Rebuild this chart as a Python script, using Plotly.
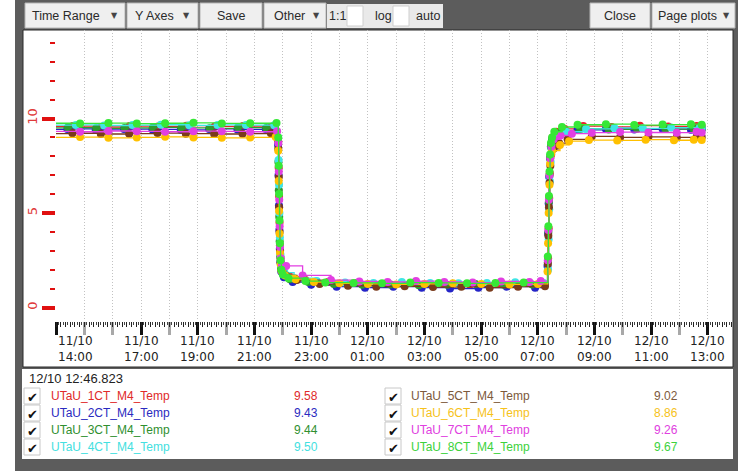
import plotly.graph_objects as go
import pandas as pd

# ---------------- data ----------------
BASE = "2023-10-11 14:00"
SERIES_NAMES = ["UTaU_1CT_M4_Temp", "UTaU_2CT_M4_Temp", "UTaU_3CT_M4_Temp", "UTaU_4CT_M4_Temp",
                "UTaU_5CT_M4_Temp", "UTaU_6CT_M4_Temp", "UTaU_7CT_M4_Temp", "UTaU_8CT_M4_Temp"]
SERIES_COLORS = ["#e8202a", "#2424c8", "#2e9a2e", "#3ee6e6", "#7a3a1c", "#ffc000", "#e23ee2", "#36e836"]
LEGEND_TEXT_COLORS = ["#e02a2a", "#2a2ac0", "#2f8f2f", "#44e0e0", "#7d5a3c", "#f6c21a", "#e040e0", "#3cd23c"]
CURSOR_VALUES = ["9.58", "9.43", "9.44", "9.50", "9.02", "8.86", "9.26", "9.67"]
CURSOR_TIME = "12/10 12:46.823"

# hours after 11/10 14:00
H1 = [-0.3, 0.6, 1.6, 2.6, 3.6, 4.6, 5.6, 6.6, 7.6, 7.84, 7.855, 7.87, 7.885, 7.9, 7.92, 7.95, 8.05, 8.3, 8.8, 9.6,
      10.6, 11.6, 12.6, 13.6, 14.6, 15.6, 16.6, 17.36, 17.38, 17.40, 17.42, 17.44, 17.47, 17.52, 17.65, 17.95, 18.6,
      19.6, 20.6, 21.6, 22.6, 22.78]
V1 = [9.58, 9.6, 9.55, 9.6, 9.58, 9.62, 9.58, 9.6, 9.56, 8.8, 7.4, 5.9, 4.5, 3.3, 2.6, 2.1, 1.8, 1.6, 1.45, 1.35,
      1.3, 1.25, 1.3, 1.25, 1.2, 1.25, 1.3, 2.6, 4.2, 5.8, 7.1, 8.0, 8.6, 9.0, 9.3, 9.45, 9.6,
      9.55, 9.62, 9.58, 9.6, 9.58]
H2 = [-0.3, 0.4, 1.4, 2.4, 3.4, 4.4, 5.4, 6.4, 7.4, 7.835, 7.85, 7.865, 7.88, 7.895, 7.915, 7.945, 8.04, 8.35, 9.0, 9.9,
      10.9, 11.9, 12.9, 13.9, 14.9, 15.9, 16.9, 17.34, 17.36, 17.38, 17.40, 17.43, 17.46, 17.5, 17.62, 17.9, 18.4,
      19.4, 20.4, 21.4, 22.4, 22.78]
V2 = [9.42, 9.45, 9.4, 9.44, 9.42, 9.4, 9.45, 9.42, 9.44, 8.6, 7.0, 5.4, 4.1, 3.1, 2.4, 1.9, 1.6, 1.35, 1.2, 1.1,
      1.05, 1.1, 1.05, 1.0, 1.05, 1.1, 1.05, 2.2, 3.9, 5.5, 6.9, 7.9, 8.5, 8.9, 9.15, 9.3, 9.4,
      9.45, 9.42, 9.44, 9.4, 9.43]
H3 = [-0.3, 0.42, 1.42, 2.42, 3.42, 4.42, 5.42, 6.42, 7.42, 7.83, 7.845, 7.86, 7.875, 7.89, 7.91, 7.94, 8.02, 8.25, 8.9, 9.8,
      10.8, 11.8, 12.8, 13.8, 14.8, 15.8, 16.8, 17.35, 17.37, 17.39, 17.41, 17.43, 17.46, 17.51, 17.6, 17.85, 18.5,
      19.5, 20.5, 21.5, 22.5, 22.78]
V3 = [9.5, 9.52, 9.48, 9.5, 9.53, 9.5, 9.48, 9.52, 9.5, 8.9, 7.7, 6.2, 4.8, 3.5, 2.7, 2.1, 1.75, 1.5, 1.35, 1.25,
      1.2, 1.22, 1.18, 1.2, 1.25, 1.2, 1.22, 2.4, 4.0, 5.6, 7.0, 7.9, 8.5, 8.9, 9.2, 9.35, 9.45,
      9.42, 9.46, 9.44, 9.45, 9.44]
H4 = [-0.3, 0.7, 1.7, 2.7, 3.7, 4.7, 5.7, 6.7, 7.7, 7.838, 7.852, 7.868, 7.882, 7.898, 7.918, 7.948, 8.06, 8.4, 9.2, 10.2,
      11.2, 12.2, 13.2, 14.2, 15.2, 16.2, 17.2, 17.36, 17.38, 17.40, 17.42, 17.45, 17.48, 17.53, 17.7, 18.0, 18.7,
      19.7, 20.7, 21.7, 22.7, 22.78]
V4 = [9.65, 9.66, 9.63, 9.65, 9.67, 9.64, 9.66, 9.65, 9.64, 9.0, 7.8, 6.5, 5.0, 3.7, 2.8, 2.2, 1.85, 1.55, 1.4, 1.32,
      1.3, 1.35, 1.3, 1.28, 1.3, 1.33, 1.3, 2.0, 3.6, 5.2, 6.7, 7.7, 8.4, 8.8, 9.1, 9.3, 9.45,
      9.5, 9.48, 9.52, 9.5, 9.5]
H5 = [-0.3, 0.58, 1.58, 2.58, 3.58, 4.58, 5.58, 6.58, 7.58, 7.842, 7.858, 7.872, 7.888, 7.905, 7.925, 7.96, 8.1, 8.5, 9.3, 10.3,
      11.3, 12.3, 13.3, 14.3, 15.3, 16.3, 17.25, 17.35, 17.37, 17.39, 17.41, 17.44, 17.47, 17.55, 17.75, 18.05, 18.9,
      19.9, 20.9, 21.9, 22.6, 22.78]
V5 = [9.2, 9.22, 9.18, 9.2, 9.23, 9.2, 9.18, 9.2, 9.22, 8.4, 6.9, 5.3, 4.0, 3.0, 2.4, 2.0, 1.7, 1.45, 1.25, 1.15,
      1.1, 1.12, 1.08, 1.1, 1.05, 1.1, 1.12, 2.3, 3.8, 5.3, 6.6, 7.5, 8.1, 8.4, 8.7, 8.9, 9.05,
      9.0, 9.03, 9.0, 9.04, 9.02]
H6 = [-0.3, 0.85, 1.85, 2.85, 3.85, 4.85, 5.85, 6.85, 7.75, 7.84, 7.856, 7.87, 7.886, 7.902, 7.922, 7.955, 8.08, 8.45, 9.1, 10.0,
      11.0, 12.0, 13.0, 14.0, 15.0, 16.0, 17.0, 17.34, 17.36, 17.38, 17.41, 17.43, 17.46, 17.5, 17.78, 18.1, 18.8,
      19.8, 20.8, 21.8, 22.5, 22.78]
V6 = [9.0, 9.02, 8.98, 9.0, 9.03, 9.0, 8.98, 9.0, 9.02, 8.3, 6.7, 5.1, 3.9, 2.9, 2.3, 1.95, 1.7, 1.5, 1.35, 1.28,
      1.25, 1.22, 1.25, 1.28, 1.25, 1.22, 1.25, 1.9, 3.4, 5.0, 6.5, 7.6, 8.1, 8.3, 8.6, 8.8, 8.86,
      8.84, 8.88, 8.85, 8.87, 8.86]
H7 = [-0.3, 0.85, 1.85, 2.85, 3.85, 4.85, 5.85, 6.85, 7.8, 7.845, 7.86, 7.875, 7.89, 7.905, 7.93, 7.97, 8.12, 8.7, 9.7, 10.7,
      11.7, 12.7, 13.7, 14.7, 15.7, 16.7, 17.1, 17.35, 17.37, 17.39, 17.41, 17.44, 17.48, 17.56, 17.8, 18.2, 18.9,
      19.9, 20.9, 21.9, 22.6, 22.78]
V7 = [9.32, 9.3, 9.34, 9.32, 9.3, 9.33, 9.32, 9.3, 9.33, 8.7, 7.2, 5.7, 4.3, 3.2, 2.6, 2.25, 2.2, 1.7, 1.45, 1.38,
      1.35, 1.4, 1.35, 1.32, 1.38, 1.35, 1.4, 2.5, 4.1, 5.7, 7.0, 7.9, 8.5, 8.9, 9.1, 9.2, 9.25,
      9.28, 9.26, 9.25, 9.3, 9.26]
H8 = [-0.3, 0.85, 1.85, 2.85, 3.85, 4.85, 5.85, 6.85, 7.78, 7.84, 7.855, 7.87, 7.885, 7.9, 7.92, 7.95, 8.0, 8.2, 8.8, 9.5,
      10.5, 11.5, 12.5, 13.5, 14.5, 15.5, 16.5, 17.35, 17.37, 17.39, 17.41, 17.43, 17.46, 17.5, 17.58, 17.85, 18.4,
      19.4, 20.4, 21.4, 22.4, 22.78]
V8 = [9.75, 9.74, 9.76, 9.73, 9.75, 9.77, 9.74, 9.75, 9.76, 9.0, 7.5, 6.0, 4.6, 3.4, 2.5, 2.0, 1.75, 1.55, 1.4, 1.32,
      1.3, 1.28, 1.32, 1.3, 1.28, 1.3, 1.32, 2.7, 4.3, 5.9, 7.2, 8.1, 8.7, 9.0, 9.3, 9.55, 9.67,
      9.7, 9.65, 9.68, 9.7, 9.67]
HOURS = [H1, H2, H3, H4, H5, H6, H7, H8]
VALUES = [V1, V2, V3, V4, V5, V6, V7, V8]
for h, v in zip(HOURS, VALUES):
    assert len(h) == len(v), (len(h), len(v))

X_RANGE = ["2023-10-11 14:00", "2023-10-12 13:53"]
Y_RANGE = [-0.714, 14.683]
XTICK_TIMES = ["2023-10-11 14:00", "2023-10-11 17:00", "2023-10-11 19:00", "2023-10-11 21:00",
               "2023-10-11 23:00", "2023-10-12 01:00", "2023-10-12 03:00", "2023-10-12 05:00",
               "2023-10-12 07:00", "2023-10-12 09:00", "2023-10-12 11:00", "2023-10-12 13:00"]
XTICK_TEXT = ["11/10<br>14:00", "11/10<br>17:00", "11/10<br>19:00", "11/10<br>21:00", "11/10<br>23:00",
              "12/10<br>01:00", "12/10<br>03:00", "12/10<br>05:00", "12/10<br>07:00", "12/10<br>09:00",
              "12/10<br>11:00", "12/10<br>13:00"]
YTICK_VALS = [0, 5, 10]
YTICK_TEXT = ["0", "5", "10"]

# ---------------- geometry helpers (pixels -> paper) ----------------
W, Hh = 738, 471
PL, PR, PT, PB = 56, 733, 30, 321


def fx(px):
    return (px - PL) / (PR - PL)


def fy(py):
    return (PB - py) / (PB - PT)


shapes = []
annotations = []


def rect(x0, y0, x1, y1, fill, line=None, lw=1):
    shapes.append(dict(type="rect", xref="paper", yref="paper", layer="below",
                       x0=fx(x0), x1=fx(x1), y0=fy(y1), y1=fy(y0), fillcolor=fill,
                       line=dict(color=line if line else fill, width=lw if line else 0)))


def text(px, py, s, size=12.5, color="#333", anchor="center", family="Liberation Sans"):
    annotations.append(dict(x=fx(px), y=fy(py), xref="paper", yref="paper", text=s, showarrow=False,
                            xanchor=anchor, yanchor="middle",
                            font=dict(family=family, size=size, color=color)))


# frame
GRAY = "#5c5c5c"
rect(15, 0, 738, 471, GRAY)
rect(23, 30, 733, 367, "white", "#2a2a2a", 1)
rect(22, 369, 733, 459, "white")

# toolbar
BTN = "#efefef"
BTN_LINE = "#b5b5b5"
for x0, x1, label, lc, arrow in [(25, 125, "Time Range", 66, 114), (127, 198, "Y Axes", 154, 186),
                                 (200, 262, "Save", 231, None), (264, 326, "Other", 289, 316),
                                 (590, 650, "Close", 620, None), (652, 735, "Page plots", 687, 726)]:
    rect(x0, 3, x1, 28, BTN, BTN_LINE)
    text(lc, 16, label, color="#2a2a2a")
    if arrow:
        text(arrow, 16, "▼", size=8, color="#444", family="DejaVu Sans")
rect(327, 4, 443, 28, "#e9e9e9")
text(337, 16, "1:1", color="#2a2a2a")
rect(347, 6, 363, 26, "white", "#cfcfcf")
text(383, 16, "log", color="#2a2a2a")
rect(393, 6, 409, 26, "white", "#cfcfcf")
text(428, 16, "auto", color="#2a2a2a")

# legend block
text(27, 378, CURSOR_TIME, size=13, color="#222", anchor="left")
ROWS = [396, 413, 430, 447]
for i in range(8):
    col, row = divmod(i, 4)
    py = ROWS[row]
    bx = 24 if col == 0 else 385
    rect(bx, py - 8, bx + 16, py + 8, "white", "#c8c8c8")
    text(bx + 8, py + 1, "✔", size=13, color="#111", family="DejaVu Sans")
    nx = 49 if col == 0 else 409
    vx = 320 if col == 0 else 680
    text(nx, py, SERIES_NAMES[i], size=12, color=LEGEND_TEXT_COLORS[i], anchor="left")
    text(vx, py, CURSOR_VALUES[i], size=12, color=LEGEND_TEXT_COLORS[i], anchor="right")

# x tick labels (two-line, via axis coordinates)
for i, (t, s) in enumerate(zip(XTICK_TIMES, XTICK_TEXT)):
    annotations.append(dict(x=t, xref="x", y=fy(349), yref="paper", text=s, showarrow=False,
                            xanchor="left" if i == 0 else "center", yanchor="middle",
                            font=dict(family="DejaVu Sans", size=12, color="#222")))

# ---------------- traces ----------------
base = pd.Timestamp(BASE)
fig = go.Figure()
for name, h, v, c in zip(SERIES_NAMES, HOURS, VALUES, SERIES_COLORS):
    t = base + pd.to_timedelta(h, unit="h")
    fig.add_trace(go.Scatter(x=t, y=v, name=name, mode="lines+markers",
                             line=dict(shape="hv", width=1.3, color=c),
                             marker=dict(size=8, color=c), hoverinfo="skip"))
# carrier trace for the fine-tick overlay axis
fig.add_trace(go.Scatter(x=XTICK_TIMES, y=[None] * len(XTICK_TIMES), xaxis="x2", mode="lines",
                         showlegend=False, hoverinfo="skip"))

GRID = "#c2c2c2"
GRID_DASH = "1px,2px"
fig.update_layout(
    width=W, height=Hh, template="none", showlegend=False, hovermode=False,
    margin=dict(l=PL, r=W - PR, t=PT, b=Hh - PB, pad=0),
    paper_bgcolor="white", plot_bgcolor="rgba(0,0,0,0)",
    font=dict(family="DejaVu Sans", size=12, color="#222"),
    xaxis=dict(type="date", range=X_RANGE, tickmode="array", tickvals=XTICK_TIMES, showticklabels=False,
               ticks="outside", ticklen=13, tickwidth=3, tickcolor="#111",
               showgrid=True, gridcolor=GRID, griddash=GRID_DASH, gridwidth=1,
               showline=False, zeroline=False,
               minor=dict(tick0=BASE, dtick=3600000, ticks="outside", ticklen=13, tickwidth=3,
                          tickcolor="#a8a8a8", showgrid=True, gridcolor=GRID, griddash=GRID_DASH,
                          gridwidth=1)),
    xaxis2=dict(type="date", overlaying="x", matches="x", anchor="y", side="bottom",
                tickmode="linear", tick0=BASE, dtick=600000, ticks="outside", ticklen=5, tickwidth=1,
                tickcolor="#222", showticklabels=False, showgrid=False, showline=False, zeroline=False,
                minor=dict(dtick=300000, ticks="outside", ticklen=3, tickwidth=1, tickcolor="#444")),
    yaxis=dict(range=Y_RANGE, tickmode="array", tickvals=YTICK_VALS, ticktext=YTICK_TEXT,
               ticks="outside", ticklen=13, tickwidth=3.5, tickcolor="#e01010", tickangle=-90,
               tickfont=dict(family="DejaVu Sans", size=13, color="#e03a3a"),
               showgrid=False, showline=False, zeroline=False,
               minor=dict(dtick=1, tick0=0, ticks="outside", ticklen=5, tickwidth=1.5, tickcolor="#e01010",
                          showgrid=False)),
    shapes=shapes, annotations=annotations,
)

fig.write_html("out.html")
